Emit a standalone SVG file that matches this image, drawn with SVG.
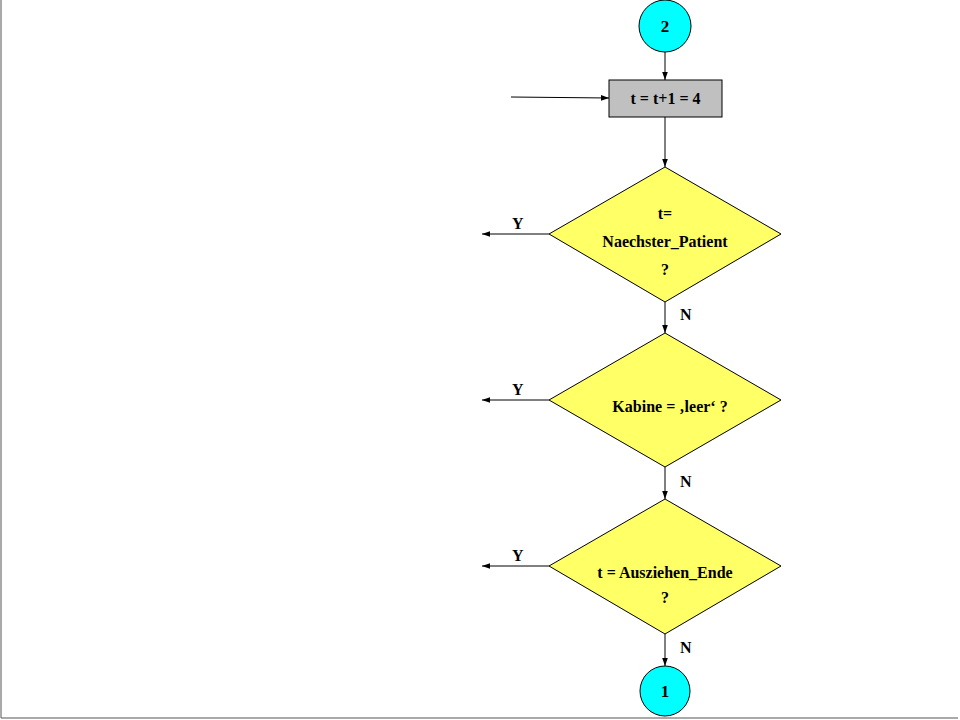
<svg xmlns="http://www.w3.org/2000/svg" width="960" height="720" viewBox="0 0 960 720">
<style>
text{font-family:"Liberation Serif",serif;font-weight:bold;fill:#000}
.c{stroke:#000;stroke-width:1;fill:none}
.d{fill:#ffff66;stroke:#000;stroke-width:1}
</style>
<defs><marker id="a" viewBox="0 0 10 10" refX="10" refY="5" markerWidth="8" markerHeight="8" orient="auto"><path d="M0,1.5L10,5L0,8.5z" fill="#000"/></marker></defs>
<rect width="960" height="720" fill="#fff"/>
<path d="M1,0V718H958" stroke="#555" fill="none"/>
<g id="connectors">
<path class="c" d="M665,52V80" marker-end="url(#a)"/>
<path class="c" d="M511,97L609,98" marker-end="url(#a)"/>
<path class="c" d="M665,117V167" marker-end="url(#a)"/>
<path class="c" d="M549,234H482" marker-end="url(#a)"/>
<path class="c" d="M665,302V333" marker-end="url(#a)"/>
<path class="c" d="M549,400H482" marker-end="url(#a)"/>
<path class="c" d="M665,467V499" marker-end="url(#a)"/>
<path class="c" d="M549,566H482" marker-end="url(#a)"/>
<path class="c" d="M665,634V666" marker-end="url(#a)"/>
<g font-size="16"><text x="512" y="229">Y</text><text x="512" y="395">Y</text><text x="512" y="561">Y</text>
<text x="680" y="320">N</text><text x="680" y="487">N</text><text x="680" y="653">N</text></g>
</g>
<g id="c2"><circle cx="665" cy="26" r="26" fill="#00ffff" stroke="#000"/><text x="665" y="32" font-size="17" text-anchor="middle">2</text></g>
<g id="step"><rect x="609" y="80" width="113" height="37" fill="#c0c0c0" stroke="#000"/><text x="665.5" y="104" font-size="16" text-anchor="middle">t = t+1 = 4</text></g>
<g id="d1"><path class="d" d="M665,167L781,234L665,302L549,234z"/><g font-size="16" text-anchor="middle"><text x="665" y="219">t=</text><text x="665" y="247">Naechster_Patient</text><text x="665" y="275">?</text></g></g>
<g id="d2"><path class="d" d="M665,333L781,400L665,467L549,400z"/><text x="670" y="412" font-size="16" text-anchor="middle">Kabine = ‚leer‘ ?</text></g>
<g id="d3"><path class="d" d="M665,499L781,566L665,634L549,566z"/><g font-size="16" text-anchor="middle"><text x="665" y="578">t = Ausziehen_Ende</text><text x="665" y="603">?</text></g></g>
<g id="c1"><circle cx="665" cy="691" r="25" fill="#00ffff" stroke="#000"/><text x="665" y="697" font-size="17" text-anchor="middle">1</text></g>
</svg>
